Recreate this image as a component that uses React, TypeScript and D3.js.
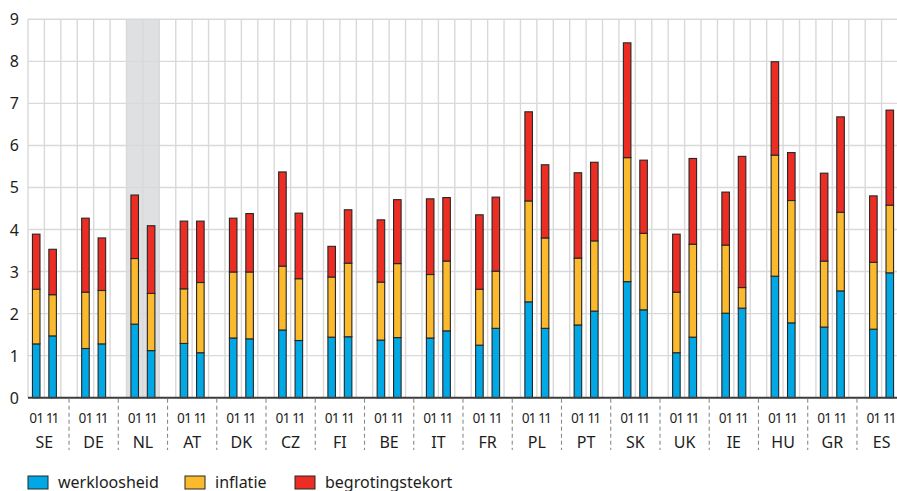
import React from "react";
import * as d3 from "d3";

const countries = ["SE", "DE", "NL", "AT", "DK", "CZ", "FI", "BE", "IT", "FR", "PL", "PT", "SK", "UK", "IE", "HU", "GR", "ES"];
const years = ["01", "11"];
const seriesNames = ["werkloosheid", "inflatie", "begrotingstekort"];
const seriesColors = ["#00a9e6", "#fbb92d", "#ec2d24"];

// per country: [2001, 2011]
const werkloosheid = [
  [1.28, 1.47], [1.17, 1.28], [1.75, 1.12], [1.29, 1.07], [1.42, 1.40], [1.61, 1.36],
  [1.44, 1.45], [1.37, 1.43], [1.42, 1.59], [1.25, 1.65], [2.28, 1.65], [1.73, 2.06],
  [2.76, 2.09], [1.07, 1.44], [2.01, 2.13], [2.89, 1.78], [1.68, 2.54], [1.63, 2.97],
];
const inflatie = [
  [1.30, 0.98], [1.34, 1.27], [1.56, 1.36], [1.30, 1.67], [1.57, 1.59], [1.52, 1.47],
  [1.43, 1.75], [1.38, 1.76], [1.51, 1.66], [1.33, 1.36], [2.40, 2.15], [1.59, 1.67],
  [2.95, 1.82], [1.44, 2.21], [1.62, 0.49], [2.88, 2.91], [1.57, 1.87], [1.59, 1.61],
];
const begrotingstekort = [
  [1.31, 1.08], [1.76, 1.25], [1.51, 1.61], [1.61, 1.46], [1.28, 1.39], [2.24, 1.56],
  [0.73, 1.27], [1.48, 1.52], [1.80, 1.51], [1.77, 1.76], [2.12, 1.74], [2.03, 1.87],
  [2.73, 1.74], [1.38, 2.04], [1.26, 3.12], [2.22, 1.14], [2.09, 2.27], [1.58, 2.26],
];
const yTicks = [0, 1, 2, 3, 4, 5, 6, 7, 8, 9];
const highlighted = "NL";

const W = 897;
const H = 491;
const left = 28;
const right = 898;
const top = 19.3;
const bottom = 397.7;
const FONT = "'Noto Sans', 'Open Sans', sans-serif";
const TEXT = "#1d1d1b";
const GRID = "#d9d9d9";

export default function App() {
  const nSlots = countries.length * 3 - 1;
  const x = d3.scaleBand<number>().domain(d3.range(nSlots)).range([left, right]).padding(0);
  const s = x.bandwidth();
  const y = d3.scaleLinear().domain([0, 9]).range([bottom, top]);
  const barW = s * 0.46;

  const data = countries.map((c, g) => ({
    country: c,
    bars: years.map((yr, b) => {
      const vals = [werkloosheid[g][b], inflatie[g][b], begrotingstekort[g][b]];
      let acc = 0;
      const segs = vals.map((v, i) => {
        const y0 = acc;
        acc += v;
        return { i, y0, y1: acc };
      });
      return { yr, slot: g * 3 + b, segs };
    }),
  }));

  const hi = countries.indexOf(highlighted);
  const boundaries = d3.range(nSlots + 1).map((i) => left + i * s);

  return (
    <svg width={W} height={H} style={{ position: "absolute", left: 0, top: 0 }} fontFamily={FONT}>
      <rect x={0} y={0} width={W} height={H} fill="#fff" />
      {/* highlight band */}
      <rect
        x={x(hi * 3)!}
        y={y(9)}
        width={2 * s}
        height={y(0) - y(9)}
        fill="#dfe0e2"
      />
      {/* grid */}
      {boundaries.map((bx, i) => (
        <line key={"v" + i} x1={bx} x2={bx} y1={y(9)} y2={y(0)} stroke={GRID} strokeWidth={1.4} />
      ))}
      {yTicks.filter((t) => t > 0).map((t) => (
        <line key={"h" + t} x1={left} x2={right} y1={y(t)} y2={y(t)} stroke={GRID} strokeWidth={1.4} />
      ))}
      {/* bars */}
      {data.map((d) =>
        d.bars.map((b) =>
          b.segs.map((sg) => (
            <rect
              key={d.country + b.yr + sg.i}
              x={x(b.slot)! + (s - barW) / 2}
              y={y(sg.y1)}
              width={barW}
              height={y(sg.y0) - y(sg.y1)}
              fill={seriesColors[sg.i]}
              stroke="#262626"
              strokeWidth={1.1}
            />
          ))
        )
      )}
      {/* axis line */}
      <line x1={left} x2={right} y1={y(0)} y2={y(0)} stroke="#3c3c3c" strokeWidth={2} />
      {/* y labels */}
      {yTicks.map((t) => (
        <text
          key={"yl" + t}
          x={19}
          y={y(t)}
          textAnchor="end"
          dominantBaseline="central"
          fontSize={16}
          fill={TEXT}
        >
          {t}
        </text>
      ))}
      {/* separators */}
      {countries.slice(0, -1).map((c, g) => {
        const sx = x(g * 3 + 2)! + s / 2;
        return (
          <line
            key={"sep" + c}
            x1={sx}
            x2={sx}
            y1={y(0) + 1}
            y2={450}
            stroke="#8a8a8a"
            strokeWidth={1.1}
            strokeDasharray="4 3"
          />
        );
      })}
      {/* year labels */}
      {data.map((d) =>
        d.bars.map((b) => (
          <text
            key={"yr" + d.country + b.yr}
            x={x(b.slot)! + s / 2}
            y={423}
            textAnchor="middle"
            fontSize={13.5}
            fill={TEXT}
            style={{ fontVariantNumeric: "proportional-nums" }}
          >
            {b.yr}
          </text>
        ))
      )}
      {/* country labels */}
      {data.map((d, g) => (
        <text
          key={"c" + d.country}
          x={x(g * 3)! + s}
          y={448}
          textAnchor="middle"
          fontSize={16}
          fill={TEXT}
        >
          {d.country}
        </text>
      ))}
      {/* legend */}
      {seriesNames.map((n, i) => {
        const lx = [28, 185, 295][i];
        return (
          <g key={"lg" + n}>
            <rect x={lx} y={476} width={20} height={13} fill={seriesColors[i]} stroke="#262626" strokeWidth={1} />
            <text x={lx + 30} y={487.5} fontSize={16} fill={TEXT}>
              {n}
            </text>
          </g>
        );
      })}
    </svg>
  );
}
